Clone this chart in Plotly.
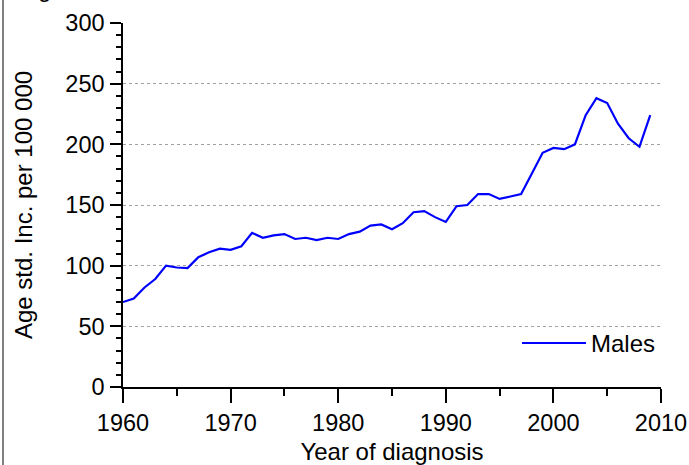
import plotly.graph_objects as go

years = list(range(1960, 2010))
males = [70, 73, 82, 89, 100, 98.5, 98, 107, 111, 114,
         113, 116, 127, 123, 125, 126, 122, 123, 121, 123,
         122, 126, 128, 133, 134, 130, 135, 144, 145, 140,
         136, 149, 150, 159, 159, 155, 157, 159, 176, 193,
         197, 196, 200, 224, 238, 234, 217, 205, 198, 224]

x_ticks = [1960, 1970, 1980, 1990, 2000, 2010]
y_ticks = [0, 50, 100, 150, 200, 250, 300]

FONT = "Liberation Sans, Arial, sans-serif"

fig = go.Figure()
fig.add_trace(go.Scatter(x=years, y=males, mode="lines", name="Males",
                         line=dict(color="#0000FF", width=2.2)))

fig.update_layout(
    width=689, height=465,
    margin=dict(l=123, r=28, t=23, b=78),
    paper_bgcolor="white", plot_bgcolor="white",
    font=dict(family=FONT, size=23, color="black"),
    showlegend=True,
    legend=dict(x=1.0, y=0.058, xanchor="right", yanchor="bottom",
                bgcolor="rgba(0,0,0,0)", font=dict(size=24),
                itemwidth=64),
    xaxis=dict(range=[1960, 2010], tickvals=x_ticks, showgrid=False, automargin=False,
               zeroline=False, showline=True, linecolor="black", linewidth=1.5,
               ticks="outside", ticklen=14, tickwidth=1.5, tickcolor="black",
               minor=dict(dtick=5, ticks="outside", ticklen=7, tickwidth=1.5, tickcolor="black"),
               title=dict(text="Year of diagnosis", font=dict(size=24), standoff=8),
               tickfont=dict(size=23.5)),
    yaxis=dict(range=[0, 300], tickvals=y_ticks, showgrid=True, automargin=False,
               gridcolor="#a0a0a0", griddash="dot", gridwidth=1,
               zeroline=False, showline=True, linecolor="black", linewidth=1.5,
               ticks="outside", ticklen=11, tickwidth=1.5, tickcolor="black",
               ticklabelstandoff=1,
               minor=dict(dtick=10, ticks="outside", ticklen=5, tickwidth=1.5, tickcolor="black"),
               title=dict(text="Age std. Inc. per 100 000", font=dict(size=24), standoff=26),
               tickfont=dict(size=23.5)),
)

fig.add_shape(type="line", xref="paper", yref="paper",
              x0=(3 - 123) / 538, x1=(3 - 123) / 538, y0=-78 / 364, y1=(364 + 23) / 364,
              line=dict(color="#808080", width=2))

fig.add_annotation(text="g", xref="paper", yref="paper", showarrow=False,
                   x=(44 - 123) / 538, y=1 + 19 / 364, xanchor="center", yanchor="bottom",
                   font=dict(size=24, color="black"))

fig.write_html("out.html", config={"displayModeBar": False},
               post_script="document.body.style.margin='0';")
